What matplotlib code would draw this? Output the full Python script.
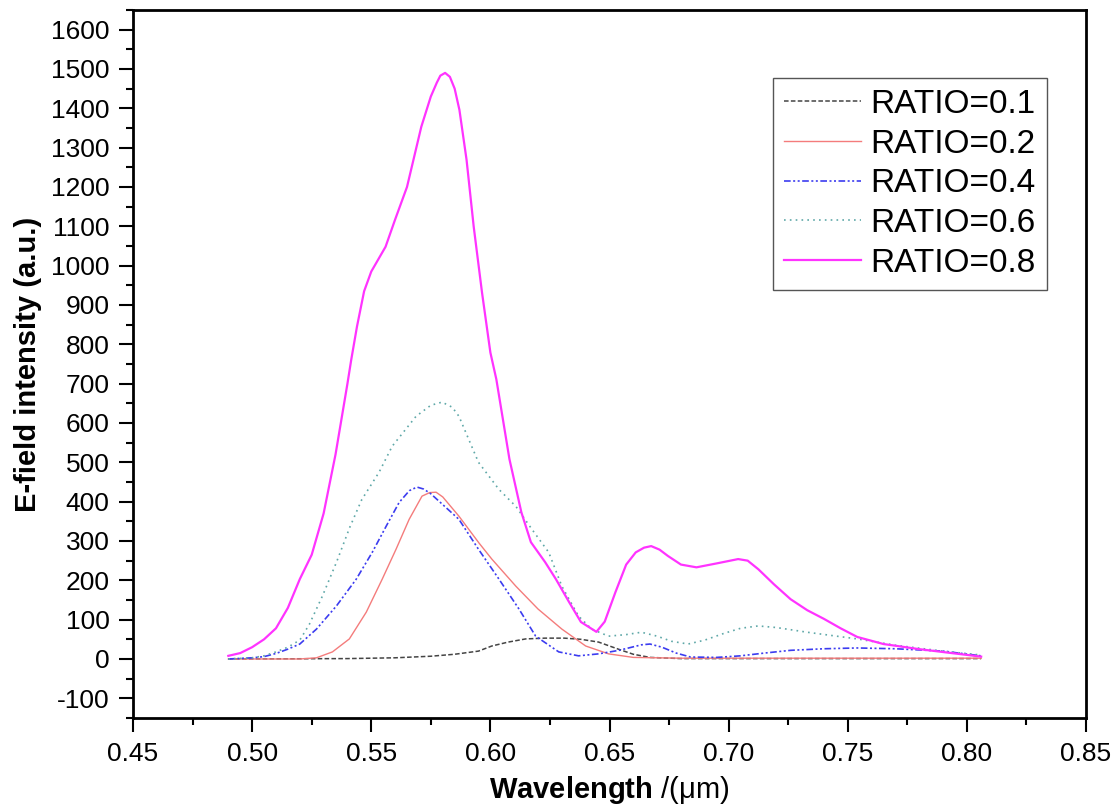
import matplotlib
matplotlib.use("Agg")
import matplotlib.pyplot as plt
from matplotlib.ticker import MultipleLocator

plt.rcParams['font.family'] = ['Liberation Sans', 'DejaVu Sans']
plt.rcParams['mathtext.fontset'] = 'custom'
plt.rcParams['mathtext.rm'] = 'Liberation Sans'
plt.rcParams['mathtext.bf'] = 'Liberation Sans:bold'
plt.rcParams['axes.unicode_minus'] = False

# RATIO=0.1 (black dashed)
x_r01 = [0.490, 0.540, 0.560, 0.575, 0.585, 0.595, 0.6006, 0.6075, 0.6148, 0.623,
         0.631, 0.638, 0.6454, 0.6537, 0.660, 0.667, 0.680, 0.806]
y_r01 = [0, 1, 3, 7, 12, 20, 33, 43, 51, 53,
         53, 50, 43, 25, 12, 4, 1, 1]

# RATIO=0.2 (salmon solid)
x_r02 = [0.490, 0.520, 0.527, 0.5337, 0.5408, 0.5479, 0.5546, 0.5604, 0.5659, 0.5713,
         0.5745, 0.5772, 0.580, 0.5868, 0.5952, 0.6006, 0.6107, 0.620, 0.630, 0.640,
         0.6496, 0.660, 0.680, 0.806]
y_r02 = [0, 0, 3, 18, 51, 119, 203, 279, 355, 414,
         423, 424, 412, 363, 295, 254, 185, 127, 76, 33,
         13, 4, 2, 2]

# RATIO=0.4 (blue dash-dot-dot)
x_r04 = [0.490, 0.500, 0.505, 0.510, 0.515, 0.520, 0.527, 0.5354, 0.5437, 0.5504,
         0.5563, 0.5617, 0.566, 0.5692, 0.572, 0.575, 0.5868, 0.595, 0.6036, 0.612,
         0.619, 0.6287, 0.637, 0.6454, 0.654, 0.6634, 0.667, 0.672, 0.678, 0.684,
         0.695, 0.705, 0.715, 0.726, 0.740, 0.754, 0.770, 0.790, 0.806]
y_r04 = [0, 3, 6, 14, 25, 38, 76, 135, 203, 271,
         338, 398, 428, 437, 432, 420, 355, 279, 203, 127,
         58, 18, 8, 13, 22, 36, 38, 30, 15, 5,
         4, 8, 15, 22, 26, 28, 26, 20, 8]

# RATIO=0.6 (teal dotted)
x_r06 = [0.490, 0.500, 0.505, 0.510, 0.515, 0.520, 0.524, 0.5295, 0.5354, 0.541,
         0.546, 0.5533, 0.5588, 0.5688, 0.575, 0.5797, 0.584, 0.5868, 0.595, 0.6036,
         0.6107, 0.6174, 0.6245, 0.630, 0.637, 0.6425, 0.6496, 0.657, 0.6634, 0.670,
         0.676, 0.683, 0.690, 0.698, 0.705, 0.7124, 0.720, 0.733, 0.754, 0.770,
         0.790, 0.806]
y_r06 = [0, 3, 8, 18, 30, 48, 88, 160, 246, 335,
         405, 475, 541, 617, 645, 653, 640, 617, 500, 431,
         388, 330, 271, 185, 109, 76, 58, 62, 68, 58,
         45, 38, 48, 65, 78, 84, 80, 68, 51, 35,
         20, 10]

# RATIO=0.8 (magenta solid)
x_r08 = [0.490, 0.495, 0.500, 0.505, 0.510, 0.515, 0.520, 0.525, 0.530, 0.535,
         0.540, 0.5416, 0.544, 0.547, 0.550, 0.556, 0.560, 0.565, 0.571, 0.575,
         0.5775, 0.579, 0.581, 0.583, 0.585, 0.587, 0.590, 0.593, 0.5965, 0.600,
         0.6025, 0.608, 0.613, 0.617, 0.623, 0.6275, 0.633, 0.638, 0.6445, 0.648,
         0.6525, 0.657, 0.661, 0.6645, 0.6675, 0.671, 0.6745, 0.680, 0.6865, 0.695,
         0.704, 0.708, 0.7125, 0.719, 0.726, 0.733, 0.740, 0.747, 0.754, 0.765,
         0.780, 0.795, 0.806]
y_r08 = [8, 15, 30, 50, 78, 130, 203, 265, 370, 520,
         700, 761, 845, 935, 985, 1048, 1117, 1200, 1353, 1430,
         1465, 1483, 1490, 1480, 1450, 1396, 1269, 1099, 931, 779,
         711, 508, 373, 297, 246, 203, 145, 94, 69, 95,
         170, 240, 271, 283, 287, 278, 262, 240, 233, 243,
         254, 250, 228, 190, 152, 124, 102, 78, 56, 38,
         25, 14, 6]

fig = plt.figure(figsize=(11.16, 8.10), dpi=100)
ax = fig.add_axes([0.1192, 0.1136, 0.8539, 0.8741])

ax.plot(x_r01, y_r01, color='#444444', linewidth=1.1, linestyle=(0, (3, 1.5)), label='RATIO=0.1')
ax.plot(x_r02, y_r02, color='#f47c7c', linewidth=1.0, linestyle='-', label='RATIO=0.2')
ax.plot(x_r04, y_r04, color='#3c3cf0', linewidth=1.2,
        linestyle=(0, (4, 1.5, 1.2, 1.5, 1.2, 1.5)), label='RATIO=0.4')
ax.plot(x_r06, y_r06, color='#5fa8a8', linewidth=1.2, linestyle=(0, (1, 2.5)), label='RATIO=0.6')
ax.plot(x_r08, y_r08, color='#ff33ff', linewidth=1.6, linestyle='-', label='RATIO=0.8')

ax.set_xlim(0.45, 0.85)
ax.set_ylim(-150, 1650)
ax.xaxis.set_minor_locator(MultipleLocator(0.025))
ax.yaxis.set_minor_locator(MultipleLocator(50))
ax.set_yticks(range(-100, 1700, 100))
ax.set_xticks([0.45, 0.50, 0.55, 0.60, 0.65, 0.70, 0.75, 0.80, 0.85])
ax.set_xticklabels(['0.45', '0.50', '0.55', '0.60', '0.65', '0.70', '0.75', '0.80', '0.85'])

ax.tick_params(which='major', direction='out', length=10, width=1.5, labelsize=19, pad=7)
ax.tick_params(which='minor', direction='out', length=5, width=1.5)
ax.tick_params(top=False, right=False, which='both')
for s in ax.spines.values():
    s.set_linewidth(2)

ax.set_xlabel(r'$\mathbf{Wavelength}$ /(μm)', fontsize=21, labelpad=6)
ax.set_ylabel('E-field intensity (a.u.)', fontsize=21, fontweight='bold', labelpad=6)

leg = ax.legend(loc='upper right', bbox_to_anchor=(0.959, 0.904), fontsize=24,
                frameon=True, fancybox=False, edgecolor='#555555', framealpha=1,
                handlelength=2.3, handletextpad=0.3, labelspacing=0.26,
                borderpad=0.33, borderaxespad=0)
leg.get_frame().set_linewidth(1.0)

plt.savefig('out.png', dpi=100)
